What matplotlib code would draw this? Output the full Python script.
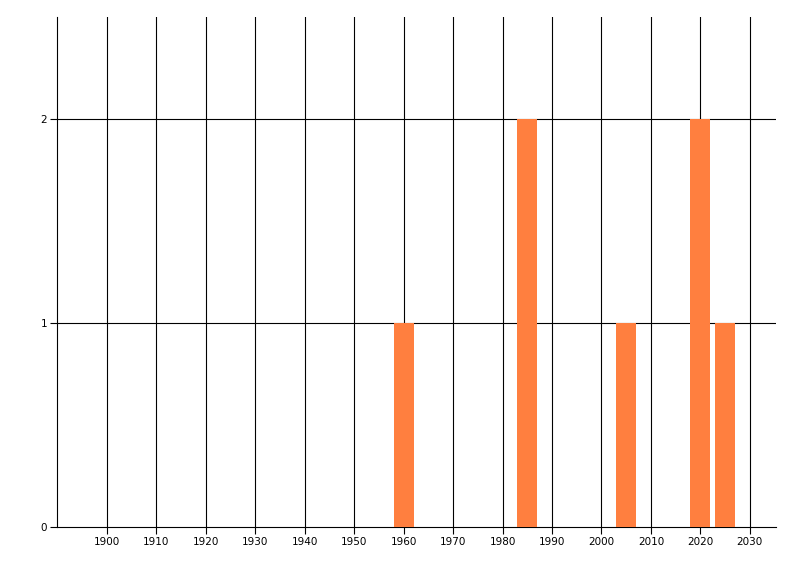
import matplotlib
matplotlib.use("Agg")
import matplotlib.pyplot as plt

years = [1960, 1985, 2005, 2020, 2025]
counts = [1, 2, 1, 2, 1]
xticks = list(range(1900, 2031, 10))
yticks = [0, 1, 2]

fig = plt.figure(figsize=(8, 5.76), dpi=100)
ax = fig.add_axes([57 / 800, 1 - 527 / 576, (776 - 57) / 800, (527 - 17) / 576])

ax.bar(years, counts, width=4, color="#FF7F3F", zorder=3)

ax.set_xlim(1889.9, 2035.3)
ax.set_ylim(0, 2.5)
ax.set_xticks(xticks)
ax.set_yticks(yticks)
ax.tick_params(labelsize=7.5, length=5, width=0.8, color="black", pad=2)

# grid drawn under the bars
for x in xticks:
    ax.axvline(x, color="black", lw=0.8, zorder=1)
for y in yticks[1:]:
    ax.axhline(y, color="black", lw=0.8, zorder=1)

ax.spines["top"].set_visible(False)
ax.spines["right"].set_visible(False)
ax.spines["left"].set_linewidth(0.8)
ax.spines["bottom"].set_linewidth(0.8)

fig.savefig("out.png", dpi=100)
